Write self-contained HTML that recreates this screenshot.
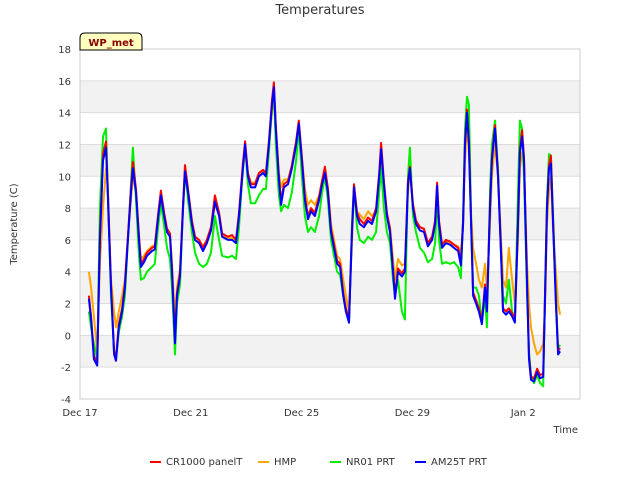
<!DOCTYPE html>
<html><head><meta charset="utf-8"><style>
body{margin:0;background:#fff;font-family:"Liberation Sans","DejaVu Sans",sans-serif;}
svg text{font-family:"DejaVu Sans","Liberation Sans",sans-serif;}
</style></head><body>
<svg id="chart" width="640" height="480" xmlns="http://www.w3.org/2000/svg">
<text x="320" y="14" text-anchor="middle" font-size="13" fill="#333">Temperatures</text>
<g id="bands"></g>
<g id="grid"></g>
<g id="series"></g>
<rect x="80" y="49" width="500" height="350" fill="none" stroke="#ccc"/>
<g id="yticks"></g>
<g id="xticks"></g>
<text x="17" y="224" transform="rotate(-90 17 224)" text-anchor="middle" font-size="10" fill="#333">Temperature (C)</text>
<text x="578" y="433" text-anchor="end" font-size="10" fill="#333">Time</text>
<g>
<path d="M80,50 L80,38 Q80,33 85,33 L137,33 Q142,33 142,38 L142,50 Z" fill="#ffffc0" stroke="#000" stroke-width="1"/>
<text x="111" y="46" text-anchor="middle" font-size="10" font-weight="bold" fill="#8b0000">WP_met</text>
</g>
<g id="legend"></g>
</svg>
<script>
const times=[0.32,0.40,0.50,0.62,0.72,0.83,0.94,1.00,1.12,1.23,1.30,1.40,1.52,1.62,1.73,1.84,1.91,2.02,2.13,2.20,2.31,2.42,2.60,2.70,2.82,2.92,3.03,3.14,3.25,3.32,3.43,3.50,3.61,3.72,3.79,3.90,4.04,4.15,4.30,4.44,4.58,4.73,4.87,5.02,5.13,5.34,5.49,5.63,5.74,5.88,5.96,6.06,6.17,6.32,6.46,6.61,6.71,6.82,6.93,7.00,7.07,7.18,7.26,7.36,7.51,7.65,7.80,7.90,8.01,8.12,8.23,8.34,8.48,8.63,8.74,8.84,8.95,9.06,9.17,9.28,9.39,9.50,9.60,9.71,9.82,9.89,10.00,10.10,10.25,10.40,10.54,10.69,10.80,10.87,10.97,11.08,11.19,11.30,11.37,11.48,11.62,11.73,11.84,11.91,12.02,12.13,12.27,12.42,12.56,12.71,12.82,12.89,12.96,13.07,13.21,13.36,13.50,13.65,13.75,13.83,13.90,13.97,14.04,14.12,14.19,14.30,14.40,14.51,14.62,14.69,14.80,14.87,14.98,15.09,15.20,15.27,15.38,15.48,15.60,15.70,15.81,15.88,15.96,16.03,16.14,16.21,16.28,16.39,16.50,16.61,16.72,16.79,16.86,16.93,17.00,17.08,17.18,17.26,17.33];
const am25t=[2.3,1.0,-1.5,-1.9,6,11,11.8,9,3,-1.2,-1.6,0.5,1.5,3,6,9,10.5,9,6,4.3,4.6,5,5.3,5.4,7.4,8.8,7.6,6.5,6.2,4,-0.5,2.5,3.7,8,10.3,9,7,6,5.8,5.3,5.8,6.6,8.4,7.5,6.2,6.0,6.0,5.8,7.5,10.5,12.0,10,9.3,9.3,10,10.2,10,12,14.5,15.6,13,9.8,8.2,9.3,9.5,10.5,12,13.3,11,8.5,7.3,7.8,7.5,8.5,9.5,10.2,9,6.5,5.5,4.5,4.3,2.5,1.5,0.8,6.5,9.3,7.5,7.0,6.8,7.2,7.0,7.8,10,11.7,9.5,7.5,6.5,4,2.3,4.0,3.7,4,9.5,10.5,8,7,6.6,6.5,5.6,6,7,9.4,7,5.5,5.8,5.7,5.5,5.3,4.4,7,12,14,12,7,2.5,2,1.5,0.7,3,1.5,8,11,13,10,5,1.5,1.3,1.5,1.2,0.8,7,11.5,12.5,11,3,-1.5,-2.8,-2.9,-2.3,-2.7,-2.6,2.5,8,10.5,10.8,7,2,-1.2,-1.0];
const cr1000=[2.5,1.2,-1.3,-1.7,6.3,11.4,12.2,9.3,3.2,-1.0,-1.4,0.7,1.7,3.2,6.2,9.3,10.9,9.2,6.2,4.5,4.8,5.2,5.5,5.6,7.6,9.1,7.8,6.7,6.4,4.2,-0.3,2.7,3.9,8.2,10.7,9.2,7.2,6.2,6.0,5.5,6.0,6.8,8.8,7.7,6.4,6.2,6.3,6.0,7.7,10.8,12.2,10.2,9.5,9.5,10.2,10.4,10.2,12.2,14.8,15.9,13.2,10.0,8.4,9.5,9.7,10.7,12.2,13.5,11.2,8.7,7.5,8.0,7.7,8.7,9.7,10.6,9.2,6.7,5.7,4.7,4.5,2.7,1.7,1.0,6.7,9.5,7.7,7.3,7.0,7.4,7.2,8.0,10.2,12.1,9.7,7.7,6.7,4.2,2.5,4.2,3.9,4.2,9.7,10.6,8.2,7.2,6.8,6.7,5.8,6.2,7.2,9.6,7.2,5.7,6.0,5.9,5.7,5.5,4.6,7.2,12.2,14.2,12.2,7.2,2.7,2.2,1.7,0.9,3.2,1.7,8.2,11.2,13.2,10.2,5.2,1.7,1.5,1.7,1.4,1.0,7.2,11.7,12.9,11.2,3.2,-1.3,-2.6,-2.7,-2.1,-2.5,-2.4,2.7,8.2,10.7,11.3,7.2,2.2,-1.0,-0.8];
const hmp=[4.0,3.0,1.2,-1.0,4.5,8.0,10.5,9.5,3.5,1.5,0.5,1.5,2.5,3.5,6.2,8.5,10.0,9.0,6.3,4.8,5.0,5.3,5.6,5.7,7.2,8.5,7.5,6.6,6.3,4.5,1.0,3.0,4.2,7.8,10.0,9.0,7.2,6.2,6.0,5.6,6.0,6.8,8.2,7.6,6.3,6.1,6.1,5.9,7.4,10.3,11.8,10.2,9.6,9.6,10.2,10.3,10.1,11.8,14.0,15.2,13.0,10.2,9.3,9.8,9.8,10.6,12.0,13.0,11.2,9.2,8.2,8.5,8.2,8.8,9.8,10.5,9.3,7.0,6.0,5.0,4.8,3.5,2.5,1.5,6.0,9.0,7.8,7.6,7.3,7.8,7.5,7.8,9.8,11.2,9.3,7.6,6.8,4.8,3.5,4.8,4.4,4.5,9.0,10.2,8.3,7.2,6.8,6.7,5.8,6.1,7.1,9.2,7.2,5.8,5.9,5.8,5.7,5.6,5.2,7.0,11.0,13.2,11.5,7.5,5.5,4.5,3.5,3.0,4.5,3.0,7.0,10.0,12.0,10.0,6.0,3.5,3.0,5.5,3.5,2.0,6.0,10.5,11.5,10.5,4.5,2.0,0.5,-0.5,-1.2,-1.0,-0.5,2.0,7.0,9.0,10.0,6.5,4.0,2.0,1.3];
const nr01=[1.5,0.5,-0.5,-1.5,8,12.5,13.0,9.5,2.5,-1.0,-1.5,0.2,1.2,2.5,6.0,9.5,11.8,8.5,5.0,3.5,3.6,4.0,4.3,4.5,6.8,8.3,7.0,5.5,4.8,3.0,-1.2,2.0,3.2,8.0,10.5,8.5,6.5,5.2,4.5,4.3,4.5,5.2,7.5,6.0,5.0,4.9,5.0,4.8,6.8,10.5,12.0,9.5,8.3,8.3,8.8,9.2,9.2,11.5,14.5,15.3,12.0,8.8,7.8,8.2,8.0,9.0,11.0,13.0,10.0,7.5,6.5,6.8,6.5,7.5,9.0,10.0,8.5,6.0,5.0,4.0,3.8,2.5,1.5,0.8,7.0,9.5,6.8,6.0,5.8,6.2,6.0,6.5,9.0,10.5,8.0,6.5,5.8,3.5,2.5,3.5,1.5,1.0,10.0,11.8,7.5,6.5,5.5,5.2,4.6,4.8,5.8,9.0,6.0,4.5,4.6,4.5,4.6,4.3,3.6,7.5,13.0,15.0,14.5,7.5,3.0,3.0,2.5,0.8,2.5,0.5,9.0,12.0,13.5,10.5,5.0,2.5,2.0,3.5,1.5,1.0,9.0,13.5,13.0,10.0,2.5,-1.0,-2.5,-3.0,-2.5,-3.0,-3.2,3.0,8.5,11.4,11.3,7.5,2.5,-0.8,-0.6];
const yTicks=[-4,-2,0,2,4,6,8,10,12,14,16,18];
const xTickDays=[0,4,8,12,16];
const xTickLabels=["Dec 17","Dec 21","Dec 25","Dec 29","Jan 2"];
const seriesNames=["CR1000 panelT","HMP","NR01 PRT","AM25T PRT"];
const seriesColors=["#ff0000","#ffa500","#00ee00","#0000ff"];

const NS="http://www.w3.org/2000/svg";
const X0=80,X1=580,Y0=399,Y1=49,DMIN=0,DMAX=18.05,VMIN=-4,VMAX=18;
function xs(d){return X0+(d-DMIN)/(DMAX-DMIN)*(X1-X0);}
function ys(v){return Y0-(v-VMIN)/(VMAX-VMIN)*(Y0-Y1);}
function mk(tag,attrs,parent){const e=document.createElementNS(NS,tag);for(const k in attrs)e.setAttribute(k,attrs[k]);parent.appendChild(e);return e;}
const bands=document.getElementById('bands'),grid=document.getElementById('grid');
for(let v=-2;v<18;v+=4){
  const r=mk('rect',{x:X0,y:ys(v+2),width:X1-X0,height:ys(v)-ys(v+2),fill:'#f2f2f2'},bands);
  
  
}
const yt=document.getElementById('yticks');
yTicks.forEach(v=>{
  const l=mk('line',{x1:X0,x2:X1,y1:ys(v),y2:ys(v),stroke:'#ddd'},grid);
  
  
  const t=mk('text',{x:71,y:ys(v)+4,'text-anchor':'end','font-size':'10',fill:'#333'},yt);
  t.textContent=v;
  
  
});
const xt=document.getElementById('xticks');
xTickDays.forEach((d,i)=>{
  const t=mk('text',{x:xs(d),y:416,'text-anchor':'middle','font-size':'10',fill:'#333'},xt);
  t.textContent=xTickLabels[i];
  
  
});
const sg=document.getElementById('series');
const allData=[cr1000,hmp,nr01,am25t];
const order=[1,2,0,3];
order.forEach(i=>{
  const vals=allData[i];
  const pts=times.map((d,j)=>xs(d).toFixed(1)+','+ys(vals[j]).toFixed(1)).join(' ');
  const p=mk('polyline',{points:pts,fill:'none',stroke:seriesColors[i],'stroke-width':'2','stroke-linejoin':'round'},sg);
  
  
});
const lg=document.getElementById('legend');
const lx=[150,258,330,415];
seriesNames.forEach((n,i)=>{
  const g=mk('g',{},lg);
  
  
  mk('line',{x1:lx[i],x2:lx[i]+11,y1:462,y2:462,stroke:seriesColors[i],'stroke-width':'2'},g);
  const t=mk('text',{x:lx[i]+16,y:465,'font-size':'10',fill:'#333'},g);
  t.textContent=n;
});
</script>
</body></html>
